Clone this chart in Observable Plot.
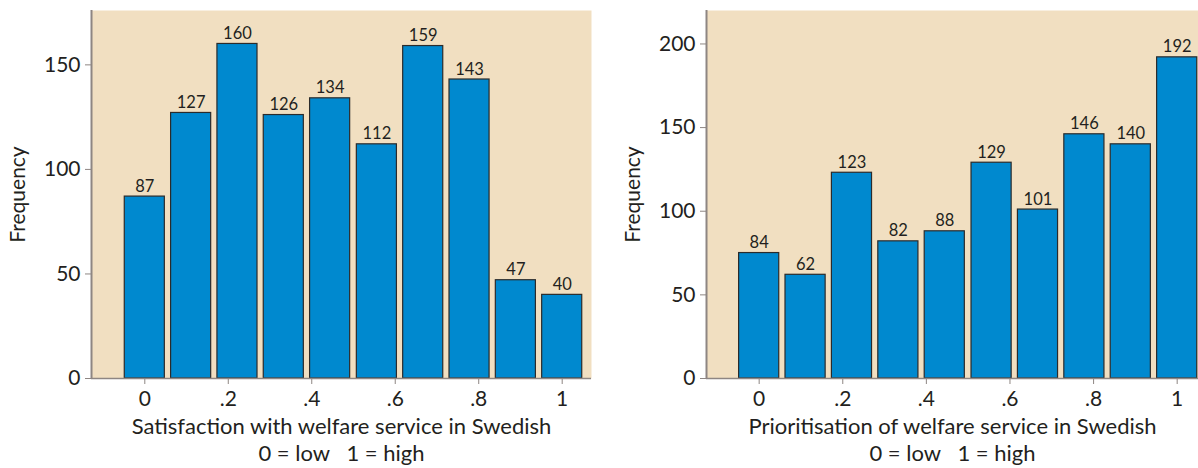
<!DOCTYPE html>
<html>
<head>
<meta charset="utf-8">
<script src="https://cdn.jsdelivr.net/npm/d3@7"></script>
<script src="https://cdn.jsdelivr.net/npm/@observablehq/plot@0.6"></script>
<style>
  html, body { margin: 0; padding: 0; background: #ffffff; }
  #wrap { display: flex; flex-direction: row; width: 1198px; height: 468px; }
  svg text { white-space: pre; }
</style>
</head>
<body>
<div id="wrap"></div>
<script>
// ---- data ----
const scoreLevels = [0, 0.111, 0.222, 0.333, 0.444, 0.556, 0.667, 0.778, 0.889, 1];
const satisfactionCounts = [87, 127, 160, 126, 134, 112, 159, 143, 47, 40];
const satisfactionLabels = ["87", "127", "160", "126", "134", "112", "159", "143", "47", "40"];
const prioritisationCounts = [75, 62, 123, 82, 88, 129, 101, 146, 140, 192];
const prioritisationLabels = ["84", "62", "123", "82", "88", "129", "101", "146", "140", "192"];
const xTickValues = [0, 0.2, 0.4, 0.6, 0.8, 1];
const xTickLabels = ["0", ".2", ".4", ".6", ".8", "1"];
const leftYTicks = [0, 50, 100, 150];
const rightYTicks = [0, 50, 100, 150, 200];
const leftTitle = "Satisfaction with welfare service in Swedish";
const rightTitle = "Prioritisation of welfare service in Swedish";
const titleLine2 = "0 = low   1 = high";
const yLabel = "Frequency";

// ---- styles ----
const FONT = "Lato, 'Open Sans', sans-serif";
const BAR = "#0089cf";
const BAR_STROKE = "#2b2b2b";
const BG = "#f1dfc1";
const AXIS = "#8e8683";
const INK = "#231f20";
const HALF = 0.048;

function panel({counts, labels, title, yTicks, yDomain, xDomain, marginLeft, marginRight}) {
  const data = scoreLevels.map((x, i) => ({x, count: counts[i], label: labels[i]}));
  return Plot.plot({
    width: 599,
    height: 468,
    marginLeft,
    marginRight,
    marginTop: 10,
    marginBottom: 90,
    style: {fontFamily: FONT, background: "#ffffff", color: INK},
    x: {domain: xDomain},
    y: {domain: yDomain},
    marks: [
      Plot.frame({fill: BG, stroke: null}),
      Plot.rectY(data, {
        x1: d => d.x - HALF, x2: d => d.x + HALF, y1: 0, y2: "count",
        fill: BAR, stroke: BAR_STROKE, strokeWidth: 1.2
      }),
      Plot.ruleX([xDomain[0]], {stroke: AXIS, strokeWidth: 2}),
      Plot.ruleY([0], {stroke: AXIS, strokeWidth: 1.5}),
      Plot.axisY({
        ticks: yTicks, tickSize: 6, tickPadding: 5, fontSize: 21,
        label: null, stroke: AXIS, fill: INK, tickFormat: d => String(d)
      }),
      Plot.axisX({
        ticks: xTickValues, tickSize: 6, tickPadding: 7, fontSize: 21,
        label: null, stroke: AXIS, fill: INK,
        tickFormat: d => xTickLabels[xTickValues.indexOf(d)]
      }),
      Plot.text(data, {
        x: "x", y: "count", text: "label", lineAnchor: "bottom", dy: -5,
        fontSize: 16.5, fill: INK
      }),
      Plot.text([title], {frameAnchor: "bottom", dy: 55, fontSize: 22, fill: INK}),
      Plot.text([titleLine2], {frameAnchor: "bottom", dy: 82, fontSize: 22, fill: INK}),
      Plot.text([yLabel], {
        frameAnchor: "left", textAnchor: "middle", dx: -73, rotate: -90,
        fontSize: 21, fill: INK
      })
    ]
  });
}

const wrap = document.getElementById("wrap");
wrap.appendChild(panel({
  counts: satisfactionCounts, labels: satisfactionLabels, title: leftTitle,
  yTicks: leftYTicks, yDomain: [0, 176], xDomain: [-0.1277, 1.0702],
  marginLeft: 91, marginRight: 8
}));
wrap.appendChild(panel({
  counts: prioritisationCounts, labels: prioritisationLabels, title: rightTitle,
  yTicks: rightYTicks, yDomain: [0, 220], xDomain: [-0.126, 1.051],
  marginLeft: 107, marginRight: 0
}));
</script>
</body>
</html>
